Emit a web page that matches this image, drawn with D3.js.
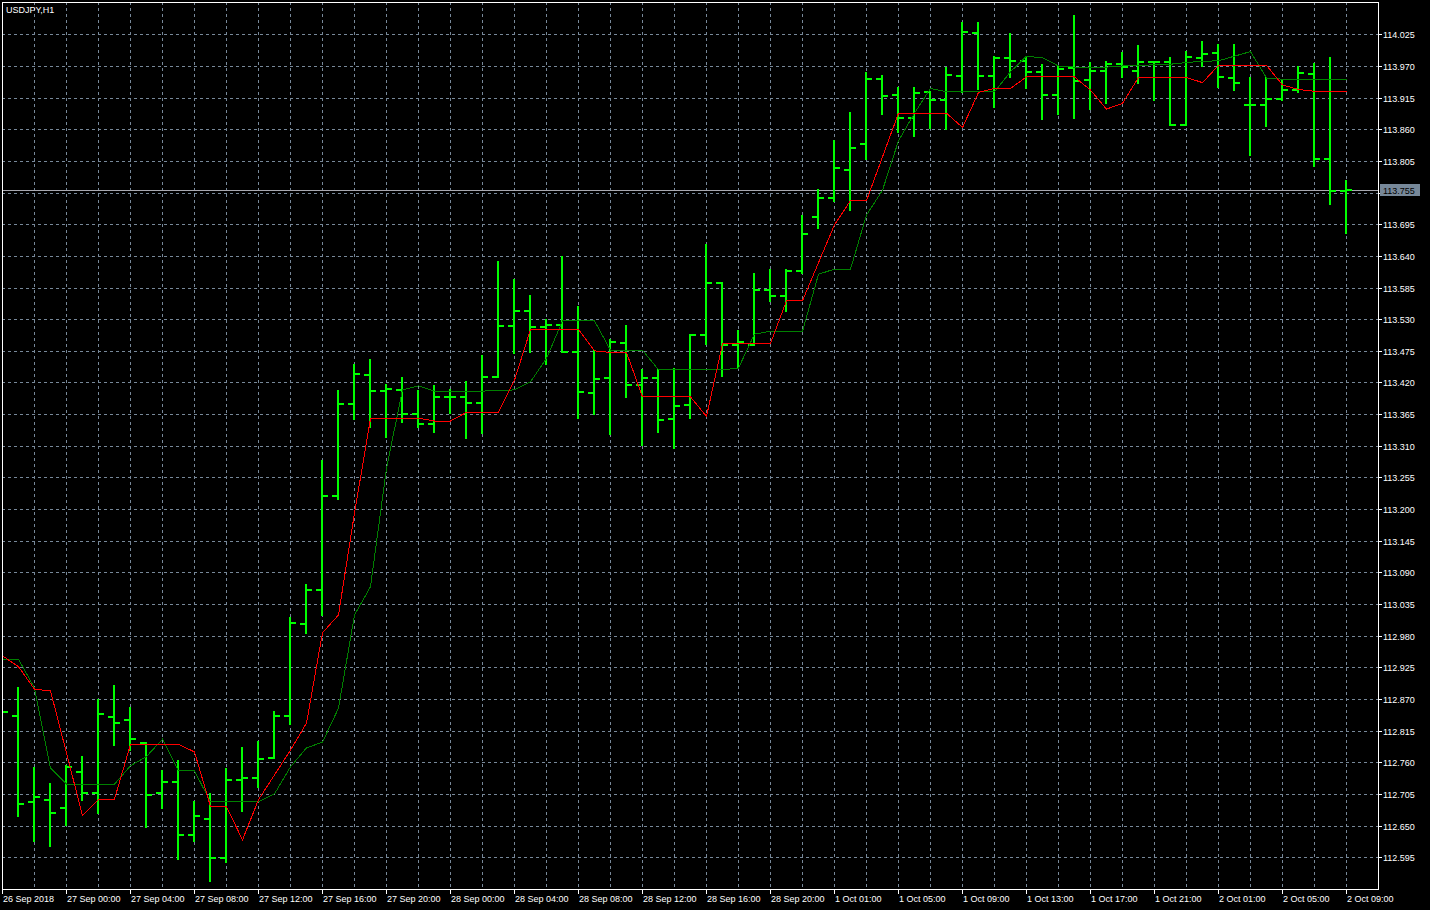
<!DOCTYPE html>
<html><head><meta charset="utf-8">
<script src="https://cdn.jsdelivr.net/npm/d3@7"></script>
<style>
body{margin:0;background:#000;overflow:hidden}
svg{display:block}
text{font-family:"Liberation Sans",Arial,sans-serif;font-size:9px;fill:#fff}
</style>
</head><body><svg id="c" width="1430" height="910"></svg>
<script>
const chartTitle = "USDJPY,H1";
const opens  = [112.850,112.840,112.691,112.695,112.681,112.743,112.707,112.839,112.834,112.793,112.706,112.726,112.634,112.661,112.593,112.729,112.733,112.768,112.841,113.001,113.060,113.222,113.382,113.433,113.405,113.407,113.366,113.347,113.394,113.395,113.385,113.430,113.518,113.545,113.516,113.520,113.473,113.402,113.427,113.489,113.416,113.428,113.357,113.380,113.503,113.592,113.485,113.485,113.581,113.571,113.614,113.708,113.741,113.790,113.834,113.947,113.920,113.879,113.925,113.911,113.953,114.028,113.953,113.984,113.979,113.960,113.920,113.967,113.946,113.961,113.973,113.962,113.976,113.976,113.867,113.984,113.993,113.949,113.902,113.903,113.913,113.929,113.956,113.808,113.753];
const highs  = [112.870,112.891,112.752,112.724,112.755,112.771,112.870,112.894,112.856,112.795,112.747,112.764,112.693,112.706,112.750,112.786,112.797,112.849,113.012,113.069,113.285,113.407,113.452,113.461,113.418,113.430,113.407,113.415,113.409,113.423,113.467,113.631,113.600,113.572,113.530,113.640,113.553,113.476,113.496,113.519,113.444,113.443,113.445,113.505,113.661,113.595,113.511,113.610,113.618,113.617,113.711,113.756,113.841,113.890,113.959,113.955,113.933,113.933,113.926,113.968,114.046,114.046,113.988,114.027,113.986,113.973,113.970,114.059,113.976,113.979,113.995,114.006,113.979,113.986,113.996,114.013,114.008,114.009,113.951,113.951,113.947,113.970,113.975,113.985,113.772];
const lows   = [112.830,112.666,112.624,112.615,112.651,112.695,112.671,112.790,112.781,112.648,112.681,112.592,112.623,112.553,112.586,112.676,112.717,112.767,112.826,112.984,113.016,113.218,113.357,113.343,113.326,113.352,113.343,113.334,113.367,113.324,113.333,113.430,113.471,113.473,113.452,113.473,113.359,113.365,113.330,113.394,113.312,113.334,113.306,113.359,113.486,113.432,113.445,113.485,113.562,113.545,113.611,113.689,113.735,113.720,113.808,113.887,113.855,113.849,113.862,113.860,113.925,113.930,113.899,113.951,113.932,113.877,113.886,113.879,113.895,113.905,113.950,113.940,113.911,113.867,113.867,113.970,113.933,113.928,113.816,113.866,113.910,113.925,113.797,113.730,113.680];
const closes = [112.848,112.688,112.700,112.671,112.751,112.707,112.844,112.829,112.800,112.703,112.726,112.634,112.667,112.593,112.729,112.733,112.766,112.840,113.002,113.060,113.222,113.382,113.434,113.405,113.409,113.365,113.347,113.394,113.395,113.385,113.430,113.518,113.545,113.516,113.520,113.473,113.403,113.426,113.491,113.416,113.428,113.355,113.379,113.503,113.592,113.485,113.491,113.581,113.571,113.614,113.678,113.741,113.793,113.828,113.948,113.918,113.879,113.923,113.911,113.954,114.029,113.953,113.984,113.979,113.960,113.920,113.965,113.944,113.961,113.973,113.969,113.977,113.976,113.867,113.986,113.991,113.950,113.941,113.903,113.913,113.928,113.957,113.808,113.753,113.755];
const redLine   = [112.945,112.926,112.887,112.884,112.776,112.667,112.695,112.696,112.791,112.791,112.791,112.791,112.778,112.683,112.683,112.625,112.695,112.738,112.781,112.828,112.985,113.016,113.193,113.357,113.358,113.358,113.358,113.353,113.353,113.368,113.368,113.368,113.424,113.512,113.512,113.512,113.512,113.475,113.472,113.472,113.395,113.395,113.395,113.395,113.361,113.487,113.487,113.487,113.488,113.562,113.562,113.628,113.694,113.736,113.736,113.812,113.888,113.888,113.888,113.888,113.863,113.924,113.931,113.931,113.951,113.951,113.951,113.951,113.928,113.895,113.905,113.950,113.950,113.950,113.950,113.941,113.971,113.971,113.971,113.971,113.937,113.929,113.926,113.926,113.926];
const greenLine = [112.939,112.939,112.889,112.750,112.722,112.722,112.722,112.722,112.754,112.770,112.800,112.745,112.745,112.691,112.691,112.691,112.691,112.705,112.752,112.785,112.795,112.854,113.016,113.065,113.271,113.407,113.414,113.405,113.405,113.405,113.405,113.406,113.407,113.421,113.462,113.527,113.527,113.527,113.476,113.476,113.476,113.442,113.442,113.442,113.442,113.442,113.445,113.504,113.509,113.509,113.509,113.608,113.617,113.617,113.711,113.754,113.840,113.888,113.931,113.925,113.925,113.925,113.925,113.960,113.987,113.984,113.970,113.968,113.968,113.968,113.970,113.971,113.972,113.973,113.976,113.978,113.979,113.987,113.995,113.949,113.947,113.947,113.947,113.947,113.947];
const priceTicks = [114.025,113.970,113.915,113.860,113.805,113.750,113.695,113.640,113.585,113.530,113.475,113.420,113.365,113.310,113.255,113.200,113.145,113.090,113.035,112.980,112.925,112.870,112.815,112.760,112.705,112.650,112.595];
const timeLabels = ["26 Sep 2018","27 Sep 00:00","27 Sep 04:00","27 Sep 08:00","27 Sep 12:00","27 Sep 16:00","27 Sep 20:00","28 Sep 00:00","28 Sep 04:00","28 Sep 08:00","28 Sep 12:00","28 Sep 16:00","28 Sep 20:00","1 Oct 01:00","1 Oct 05:00","1 Oct 09:00","1 Oct 13:00","1 Oct 17:00","1 Oct 21:00","2 Oct 01:00","2 Oct 05:00","2 Oct 09:00"];
const timeLabelBars = [0,4,8,12,16,20,24,28,32,36,40,44,48,52,56,60,64,68,72,76,80,84];
const lastPrice = 113.755;

const W = 1430, H = 910;
const L = 2, R = 1378, T = 2, B = 889;
const svg = d3.select("#c");
svg.append("rect").attr("width", W).attr("height", H).attr("fill", "#000");

const n = opens.length;
const x = d3.scaleLinear().domain([0, n - 1]).range([2, 2 + 16 * (n - 1)]);
const y = d3.scaleLinear().domain([112.595, 114.025]).range([857.2, 34.3]);
const px = v => Math.round(y(v));

const defs = svg.append("defs");
defs.append("clipPath").attr("id", "clip").append("rect")
  .attr("x", L).attr("y", T).attr("width", R - L).attr("height", B - T);

const plot = svg.append("g").attr("clip-path", "url(#clip)");
const gridColor = "#778899";

// grid
const vgrid = d3.range(2, n, 2);
plot.append("g").selectAll("line").data(vgrid).join("line")
  .attr("x1", d => x(d) + 0.5).attr("x2", d => x(d) + 0.5)
  .attr("y1", T).attr("y2", B)
  .attr("stroke", gridColor).attr("stroke-width", 1).attr("stroke-dasharray", "3,3")
  .attr("shape-rendering", "crispEdges");
plot.append("g").selectAll("line").data(priceTicks).join("line")
  .attr("x1", L).attr("x2", R)
  .attr("y1", d => px(d) + 0.5).attr("y2", d => px(d) + 0.5)
  .attr("stroke", gridColor).attr("stroke-width", 1).attr("stroke-dasharray", "3,3")
  .attr("shape-rendering", "crispEdges");

// bid line
plot.append("line").attr("x1", L).attr("x2", R)
  .attr("y1", px(lastPrice) + 0.5).attr("y2", px(lastPrice) + 0.5)
  .attr("stroke", "#a8a8b0").attr("stroke-width", 1).attr("shape-rendering", "crispEdges");

// bars
const idx = d3.range(n);
const bars = plot.append("g").attr("fill", "#00ff00").attr("shape-rendering", "crispEdges");
bars.selectAll("rect.v").data(idx).join("rect").attr("class", "v")
  .attr("x", i => x(i) - 1).attr("width", 2)
  .attr("y", i => px(highs[i])).attr("height", i => Math.max(1, px(lows[i]) - px(highs[i]) + 1));
bars.selectAll("rect.o").data(idx).join("rect").attr("class", "o")
  .attr("x", i => x(i) - 6).attr("width", 5)
  .attr("y", i => px(opens[i]) - 1).attr("height", 2);
bars.selectAll("rect.c").data(idx).join("rect").attr("class", "c")
  .attr("x", i => x(i) + 1).attr("width", 5)
  .attr("y", i => px(closes[i]) - 1).attr("height", 2);

// indicator lines
const lineGen = arr => d3.line().x((d, i) => x(i) + 0.5).y(d => y(d))(arr);
plot.append("path").attr("d", lineGen(greenLine)).attr("fill", "none")
  .attr("stroke", "#008000").attr("stroke-width", 1).attr("shape-rendering", "crispEdges");
plot.append("path").attr("d", lineGen(redLine)).attr("fill", "none")
  .attr("stroke", "#ff0000").attr("stroke-width", 1).attr("shape-rendering", "crispEdges");

// frame
const frame = svg.append("g").attr("stroke", "#fff").attr("stroke-width", 1).attr("shape-rendering", "crispEdges");
frame.append("line").attr("x1", L + 0.5).attr("x2", L + 0.5).attr("y1", T).attr("y2", B + 1);
frame.append("line").attr("x1", L).attr("x2", R + 1).attr("y1", T + 0.5).attr("y2", T + 0.5);
frame.append("line").attr("x1", R + 0.5).attr("x2", R + 0.5).attr("y1", T).attr("y2", B + 1);
frame.append("line").attr("x1", L).attr("x2", R + 1).attr("y1", B + 0.5).attr("y2", B + 0.5);

// y axis ticks and labels (the label hidden under the price box is not drawn)
const by = px(lastPrice);
const ya = svg.append("g");
ya.selectAll("line").data(priceTicks).join("line")
  .attr("x1", R).attr("x2", R + 4)
  .attr("y1", d => px(d) + 0.5).attr("y2", d => px(d) + 0.5)
  .attr("stroke", "#fff").attr("shape-rendering", "crispEdges");
ya.selectAll("text").data(priceTicks.filter(d => Math.abs(px(d) - by) > 12)).join("text")
  .attr("x", R + 5).attr("y", d => px(d) + 4)
  .text(d => d.toFixed(3));

// x axis ticks and labels
const xa = svg.append("g");
xa.selectAll("line").data(timeLabelBars).join("line")
  .attr("x1", d => x(d) + 0.5).attr("x2", d => x(d) + 0.5)
  .attr("y1", B).attr("y2", B + 5)
  .attr("stroke", "#fff").attr("shape-rendering", "crispEdges");
xa.selectAll("text").data(timeLabelBars).join("text")
  .attr("x", d => x(d) + 1).attr("y", 902)
  .text((d, i) => timeLabels[i]);

// current price box
svg.append("rect").attr("x", R + 2).attr("y", by - 6).attr("width", 40).attr("height", 12)
  .attr("fill", "#778899").attr("shape-rendering", "crispEdges");
svg.append("text").attr("x", R + 5).attr("y", by + 4).style("fill", "#000").text(lastPrice.toFixed(3));

// title
svg.append("text").attr("x", 6).attr("y", 13).text(chartTitle);
</script>
</body></html>
